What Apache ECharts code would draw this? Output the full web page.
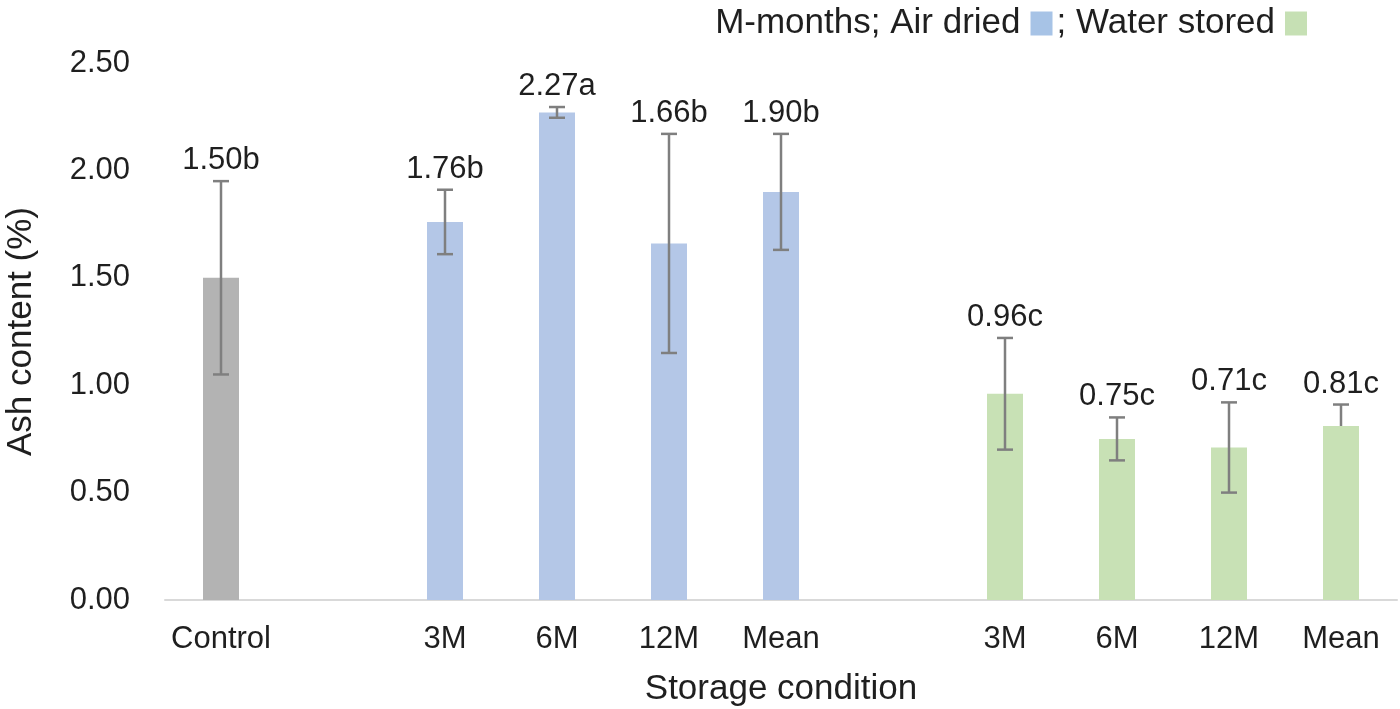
<!DOCTYPE html>
<html>
<head>
<meta charset="utf-8">
<script src="https://cdn.jsdelivr.net/npm/echarts@6/dist/echarts.min.js"></script>
<style>html,body{margin:0;padding:0;background:#fff}#c{width:1400px;height:709px}</style>
</head>
<body>
<div id="c"></div>
<script>
const categories = ['Control', '', '3M', '6M', '12M', 'Mean', '', '3M', '6M', '12M', 'Mean'];
const groups = ['control', null, 'air', 'air', 'air', 'air', null, 'water', 'water', 'water', 'water'];
const values = [1.50, null, 1.76, 2.27, 1.66, 1.90, null, 0.96, 0.75, 0.71, 0.81];
const errPlus = [0.45, null, 0.15, 0.025, 0.51, 0.27, null, 0.26, 0.10, 0.21, 0.10];
const errMinus = [0.45, null, 0.15, 0.025, 0.51, 0.27, null, 0.26, 0.10, 0.21, 0];
const labels = ['1.50b', '', '1.76b', '2.27a', '1.66b', '1.90b', '', '0.96c', '0.75c', '0.71c', '0.81c'];
const yTicks = [0, 0.5, 1.0, 1.5, 2.0, 2.5];

const airName = 'M-months; Air dried';
const waterName = '; Water stored';

function pick(g) { return values.map((v, i) => groups[i] === g ? v : '-'); }

const errData = values.map((v, i) => v == null ? null : [i, v, errPlus[i], errMinus[i], labels[i]]).filter(d => d);

const chart = echarts.init(document.getElementById('c'));
const font = 'Liberation Sans, Arial, Helvetica, sans-serif';
const txt = '#1f1f1f';
chart.setOption({
  animation: false,
  textStyle: { fontFamily: font },
  grid: { left: 165, right: 3, top: 63, bottom: 109, containLabel: false, outerBoundsMode: 'none' },
  legend: {
    data: [
      { name: airName, itemStyle: { color: '#a7c3e6' } },
      { name: waterName, itemStyle: { color: '#c6e0b4' } }
    ],
    right: 88, top: 1, align: 'right', itemGap: 4,
    itemWidth: 22, itemHeight: 24, icon: 'rect',
    textStyle: { fontSize: 35, color: txt, fontFamily: font, padding: [0, 5, 0, 0] },
    selectedMode: false
  },
  xAxis: {
    type: 'category', data: categories,
    axisLine: { lineStyle: { color: '#d9d9d9', width: 2 } },
    axisTick: { show: false },
    axisLabel: { fontSize: 31, color: txt, margin: 24, interval: 0 },
    name: 'Storage condition', nameLocation: 'middle', nameGap: 72,
    nameTextStyle: { fontSize: 35, color: txt }
  },
  yAxis: {
    type: 'value', min: yTicks[0], max: yTicks[yTicks.length - 1], interval: 0.5,
    axisLine: { show: false }, axisTick: { show: false }, splitLine: { show: false },
    axisLabel: { fontSize: 31, color: txt, margin: 35, formatter: v => v.toFixed(2) },
    name: 'Ash content (%)', nameLocation: 'middle', nameGap: 126,
    nameTextStyle: { fontSize: 35, color: txt }
  },
  series: [
    { name: 'Control', type: 'bar', data: pick('control'), barWidth: 36, barGap: '-100%', itemStyle: { color: '#b3b3b3' } },
    { name: airName, type: 'bar', data: pick('air'), barWidth: 36, barGap: '-100%', itemStyle: { color: '#b4c7e7' } },
    { name: waterName, type: 'bar', data: pick('water'), barWidth: 36, barGap: '-100%', itemStyle: { color: '#c8e1b5' } },
    {
      name: 'err', type: 'custom', z: 10, data: errData,
      renderItem: function (params, api) {
        const x = api.value(0), v = api.value(1), p = api.value(2), m = api.value(3);
        const top = api.coord([x, v + p]);
        const bot = api.coord([x, v - m]);
        const cap = 8;
        const st = { stroke: '#7f7f7f', lineWidth: 2.5 };
        const children = [
          { type: 'line', shape: { x1: top[0], y1: top[1], x2: bot[0], y2: bot[1] }, style: st },
          { type: 'line', shape: { x1: top[0] - cap, y1: top[1], x2: top[0] + cap, y2: top[1] }, style: st }
        ];
        if (m > 0) children.push({ type: 'line', shape: { x1: bot[0] - cap, y1: bot[1], x2: bot[0] + cap, y2: bot[1] }, style: st });
        children.push({
          type: 'text',
          style: { text: labels[x], x: top[0], y: top[1] - 5, textAlign: 'center', textVerticalAlign: 'bottom', fontSize: 31, fill: txt, fontFamily: font }
        });
        return { type: 'group', children: children };
      }
    }
  ]
});
</script>
</body>
</html>
